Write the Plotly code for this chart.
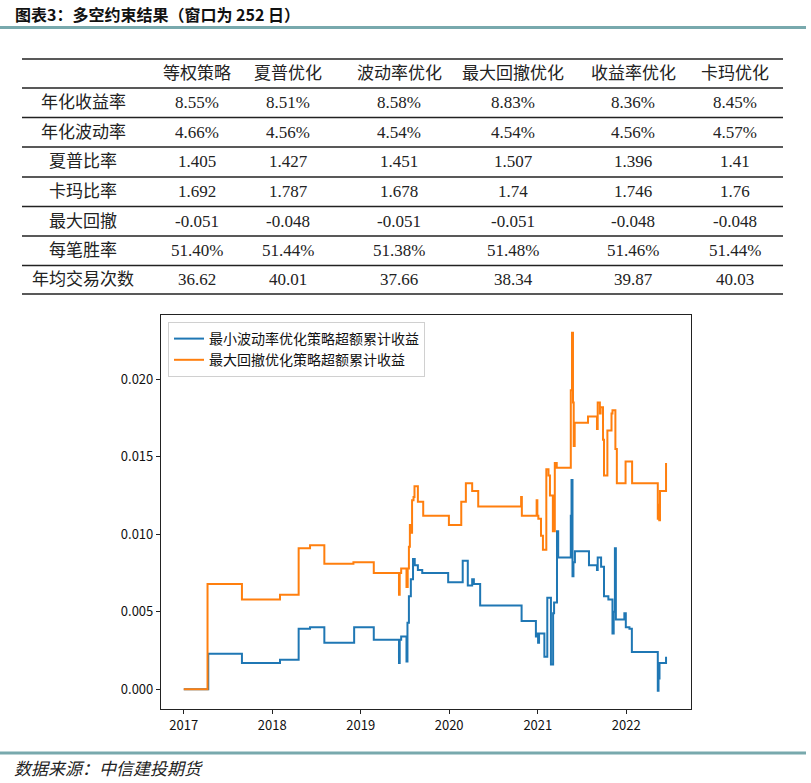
import plotly.graph_objects as go

W, H = 811, 783

title_text = "图表3：多空约束结果（窗口为 252 日）"
source_text = "数据来源：中信建投期货"

# ---- table data ----
col_headers = ["等权策略", "夏普优化", "波动率优化", "最大回撤优化", "收益率优化", "卡玛优化"]
row_labels = ["年化收益率", "年化波动率", "夏普比率", "卡玛比率", "最大回撤", "每笔胜率", "年均交易次数"]
ann_return = ["8.55%", "8.51%", "8.58%", "8.83%", "8.36%", "8.45%"]
ann_vol = ["4.66%", "4.56%", "4.54%", "4.54%", "4.56%", "4.57%"]
sharpe = ["1.405", "1.427", "1.451", "1.507", "1.396", "1.41"]
calmar = ["1.692", "1.787", "1.678", "1.74", "1.746", "1.76"]
max_dd = ["-0.051", "-0.048", "-0.051", "-0.051", "-0.048", "-0.048"]
win_rate = ["51.40%", "51.44%", "51.38%", "51.48%", "51.46%", "51.44%"]
trades = ["36.62", "40.01", "37.66", "38.34", "39.87", "40.03"]
table_rows = [ann_return, ann_vol, sharpe, calmar, max_dd, win_rate, trades]

# ---- line data ----
series_names = ["最小波动率优化策略超额累计收益", "最大回撤优化策略超额累计收益"]

minvol_dates = [
    "2017-01-01", "2017-04-12", "2017-08-29", "2018-02-02", "2018-04-20", "2018-06-06",
    "2018-08-04", "2018-12-05", "2019-02-24", "2019-06-08", "2019-06-11", "2019-06-17",
    "2019-07-09", "2019-07-13", "2019-07-19", "2019-07-27", "2019-08-05", "2019-08-12",
    "2019-08-25", "2019-09-12", "2019-12-28", "2020-02-26", "2020-03-18", "2020-04-05",
    "2020-04-12", "2020-05-08", "2020-10-26", "2020-12-24", "2020-12-28", "2021-01-02",
    "2021-01-06", "2021-01-28", "2021-02-09", "2021-02-24", "2021-03-05", "2021-03-09",
    "2021-03-21", "2021-03-26", "2021-05-17", "2021-05-20", "2021-05-24", "2021-05-28",
    "2021-06-03", "2021-07-31", "2021-09-02", "2021-09-05", "2021-09-19", "2021-10-01",
    "2021-10-19", "2021-11-05", "2021-11-10", "2021-11-15", "2021-11-19", "2021-12-24",
    "2021-12-30", "2022-01-14", "2022-01-24", "2022-05-11", "2022-05-14", "2022-05-18",
    "2022-06-14",
]
minvol_values = [
    0.0, 0.0023, 0.0017, 0.0019, 0.0039, 0.0040,
    0.0030, 0.0040, 0.0032, 0.0017, 0.0032, 0.0034,
    0.0018, 0.0043, 0.0060, 0.0071, 0.0084, 0.0080,
    0.0077, 0.0075, 0.0069, 0.0083, 0.0067, 0.0071,
    0.0068, 0.0054, 0.0044, 0.0034, 0.0036, 0.0030,
    0.0036, 0.0021, 0.0059, 0.0016, 0.0049, 0.0056,
    0.0102, 0.0085, 0.0112, 0.0135, 0.0073, 0.0082,
    0.0089, 0.0080, 0.0077, 0.0085, 0.0079, 0.0060,
    0.0058, 0.0036, 0.0050, 0.0091, 0.0045, 0.0049,
    0.0040, 0.0039, 0.0024, -0.0001, 0.0007, 0.0017,
    0.0021,
]

maxdd_dates = [
    "2017-01-01", "2017-04-09", "2017-08-29", "2018-02-02", "2018-04-20", "2018-06-06",
    "2018-08-04", "2018-12-02", "2019-02-24", "2019-06-08", "2019-06-11", "2019-06-17",
    "2019-07-09", "2019-07-14", "2019-07-19", "2019-07-23", "2019-07-28", "2019-08-01",
    "2019-08-07", "2019-08-11", "2019-08-25", "2019-09-16", "2019-12-31", "2020-02-20",
    "2020-03-10", "2020-04-05", "2020-04-30", "2020-10-24", "2020-10-27", "2020-12-27",
    "2020-12-30", "2021-01-03", "2021-01-14", "2021-01-22", "2021-02-05", "2021-02-14",
    "2021-02-20", "2021-03-04", "2021-03-12", "2021-03-20", "2021-05-17", "2021-05-22",
    "2021-05-26", "2021-05-29", "2021-06-02", "2021-07-27", "2021-09-02", "2021-09-05",
    "2021-09-14", "2021-09-17", "2021-09-27", "2021-10-01", "2021-10-15", "2021-11-01",
    "2021-11-05", "2021-11-17", "2021-11-23", "2021-12-29", "2022-01-25", "2022-05-11",
    "2022-05-14", "2022-05-17", "2022-05-20", "2022-06-14",
]
maxdd_values = [
    0.0, 0.0068, 0.0058, 0.0061, 0.0091, 0.0093,
    0.0081, 0.0082, 0.0075, 0.0061, 0.0075, 0.0078,
    0.0066, 0.0078, 0.0092, 0.0106, 0.0101, 0.0122,
    0.0124, 0.0131, 0.0121, 0.0112, 0.0106, 0.0121,
    0.0133, 0.0128, 0.0118, 0.0124, 0.0112, 0.0122,
    0.0112, 0.0110, 0.0099, 0.0090, 0.0142, 0.0138,
    0.0125, 0.0102, 0.0146, 0.0143, 0.0193, 0.0230,
    0.0185, 0.0157, 0.0172, 0.0176, 0.0168, 0.0185,
    0.0178, 0.0182, 0.0161, 0.0138, 0.0167, 0.0178,
    0.0180, 0.0155, 0.0133, 0.0147, 0.0133, 0.0110,
    0.0119, 0.0109, 0.0128, 0.0146,
]

year_ticks = ["2017-01-01", "2018-01-01", "2019-01-01", "2020-01-01", "2021-01-01", "2022-01-01"]
year_labels = ["2017", "2018", "2019", "2020", "2021", "2022"]
y_ticks = [0.0, 0.005, 0.010, 0.015, 0.020]
y_labels = ["0.000", "0.005", "0.010", "0.015", "0.020"]

colors = ["#1f77b4", "#ff7f0e"]


def px(x):
    return x / W


def py(y):
    return 1 - y / H


fig = go.Figure()
fig.add_trace(go.Scatter(x=minvol_dates, y=minvol_values, mode="lines", name=series_names[0],
                         line=dict(color=colors[0], width=2, shape="hv")))
fig.add_trace(go.Scatter(x=maxdd_dates, y=maxdd_values, mode="lines", name=series_names[1],
                         line=dict(color=colors[1], width=2, shape="hv")))

shapes = []
annotations = []

# title and rules
annotations.append(dict(text="<b>" + title_text + "</b>", x=px(13), y=py(14), xref="paper", yref="paper",
                        xanchor="left", yanchor="middle", showarrow=False,
                        font=dict(family="Noto Sans CJK SC", size=16, color="#111")))
shapes.append(dict(type="line", xref="paper", yref="paper", x0=0, x1=px(806), y0=py(27.5), y1=py(27.5),
                   line=dict(color="#78a9ad", width=3)))
shapes.append(dict(type="line", xref="paper", yref="paper", x0=0, x1=px(806), y0=py(753), y1=py(753),
                   line=dict(color="#78a9ad", width=3)))
annotations.append(dict(text="<i>" + source_text + "</i>", x=px(12), y=py(767), xref="paper", yref="paper",
                        xanchor="left", yanchor="middle", showarrow=False,
                        font=dict(family="Noto Sans CJK SC", size=17, color="#222")))

# table
line_ys = [59, 88, 117.5, 147, 177, 206.5, 236, 265.5, 294]
for i, ly in enumerate(line_ys):
    shapes.append(dict(type="line", xref="paper", yref="paper", x0=px(22), x1=px(783), y0=py(ly), y1=py(ly),
                       line=dict(color="#222", width=1.3)))
col_x = [197, 288, 399, 513, 633, 735]
label_x = 83
tfont = dict(family="Liberation Serif, Noto Sans CJK SC", size=17, color="#222")
for j, h in enumerate(col_headers):
    annotations.append(dict(text=h, x=px(col_x[j]), y=py((line_ys[0] + line_ys[1]) / 2), xref="paper",
                            yref="paper", xanchor="center", yanchor="middle", showarrow=False, font=tfont))
for i, lab in enumerate(row_labels):
    yc = py((line_ys[i + 1] + line_ys[i + 2]) / 2)
    annotations.append(dict(text=lab, x=px(label_x), y=yc, xref="paper", yref="paper",
                            xanchor="center", yanchor="middle", showarrow=False, font=tfont))
    for j, v in enumerate(table_rows[i]):
        annotations.append(dict(text=v, x=px(col_x[j]), y=yc, xref="paper", yref="paper",
                                xanchor="center", yanchor="middle", showarrow=False, font=tfont))

axis_font = dict(family="Noto Sans CJK SC", size=13, color="#111")
fig.update_layout(
    width=W, height=H,
    margin=dict(l=0, r=0, t=0, b=0),
    paper_bgcolor="white", plot_bgcolor="white",
    shapes=shapes, annotations=annotations,
    showlegend=True,
    legend=dict(x=px(168), y=py(322), xanchor="left", yanchor="top",
                bordercolor="#d0d0d0", borderwidth=1, bgcolor="rgba(255,255,255,0.9)",
                font=dict(family="Noto Sans CJK SC", size=14, color="#111"),
                itemwidth=30),
    xaxis=dict(domain=[px(161), px(691)], type="date",
               range=["2016-09-29", "2022-09-25"],
               tickvals=year_ticks, ticktext=year_labels,
               showline=True, mirror=True, linecolor="#222", linewidth=1.2,
               ticks="outside", ticklen=4, tickcolor="#222", showgrid=False, zeroline=False,
               tickfont=axis_font),
    yaxis=dict(domain=[py(709), py(315)],
               range=[-0.00127, 0.02415],
               tickvals=y_ticks, ticktext=y_labels,
               showline=True, mirror=True, linecolor="#222", linewidth=1.2,
               ticks="outside", ticklen=4, tickcolor="#222", showgrid=False, zeroline=False,
               tickfont=axis_font),
)

fig.write_html("out.html",
               config={"displayModeBar": False},
               post_script="document.body.style.margin='0';document.body.style.padding='0';"
                           "document.body.style.overflow='hidden';")
